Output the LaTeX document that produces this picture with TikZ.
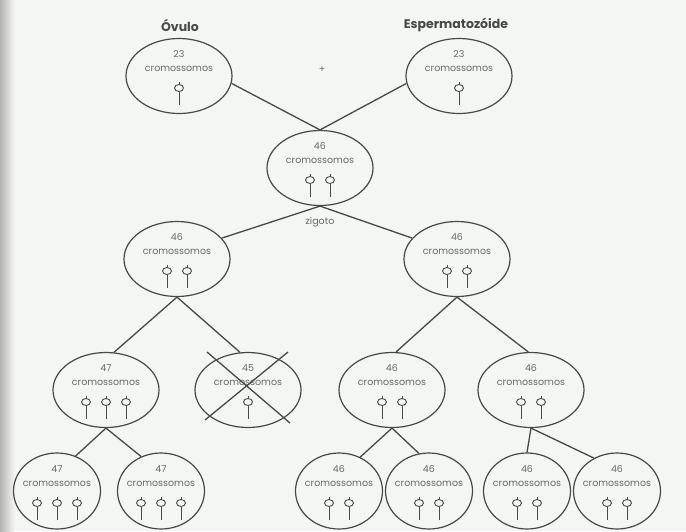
\documentclass[tikz,border=0pt]{standalone}
\usepackage{fontspec}
\setmainfont{Poppins}
\usetikzlibrary{shapes.geometric}
\definecolor{cline}{RGB}{72,72,72}
\definecolor{ctext}{RGB}{105,105,105}
\definecolor{cpaper}{RGB}{244,246,243}

\begin{document}
\begin{tikzpicture}[x=1pt,y=-1pt,
  cell/.style={draw=cline,line width=1.2pt,ellipse,minimum width=106pt,minimum height=75pt,inner sep=0pt},
  leaf/.style={cell,minimum width=87pt,minimum height=76pt},
  link/.style={draw=cline,line width=1.3pt},
  txt/.style={font=\fontsize{9.5}{11}\selectfont,text=ctext,inner sep=0pt},
  head/.style={font=\bfseries\fontsize{12.5}{14}\selectfont,text=cline,inner sep=0pt},
  chromo/.pic={
    \draw[cline,line width=0.9pt] (0pt,3.5pt) -- (0pt,6.5pt);
    \draw[cline,line width=0.9pt] (0,0) ellipse [x radius=4.5pt,y radius=3.5pt];
    \draw[cline,line width=0.9pt] (0pt,-3.5pt) -- (0pt,-17pt);
  }]
\fill[cpaper] (0,0) rectangle (686,531);
\shade[left color=black!30,right color=cpaper] (0,0) rectangle (14,531);

\foreach \n/\x/\y/\num/\k/\s in {ov/179/76/23/1/cell, es/459/76/23/1/cell, zy/320/168/46/2/cell,
    a/177/259/46/2/cell, b/457/259/46/2/cell,
    a1/106/390/47/3/cell, a2/248/390/45/1/cell, b1/392/390/46/2/cell, b2/531/390/46/2/cell,
    a11/57/491/47/3/leaf, a12/161/491/47/3/leaf, b11/339/491/46/2/leaf,
    b12/429/491/46/2/leaf, b21/527/491/46/2/leaf, b22/617/491/46/2/leaf}{
  \node[\s] (\n) at (\x,\y) {};
  \node[txt] (\n-num) at (\x,\y-22) {\num};
  \node[txt] (\n-word) at (\x,\y-7) {cromossomos};
  \foreach \i in {1,...,\k}{
    \pgfmathsetmacro\cx{\x+(\i-(\k+1)/2)*20}
    \pic at (\cx,\y+12) {chromo};
  }
}

\node[head] (ovulo) at (180,25) {Óvulo};
\node[head] (esperma) at (456,25) {Espermatozóide};
\node[txt] (plus) at (322,70) {+};
\node[txt] (zigoto) at (320,222) {zigoto};

\draw[link] (ov.-8) -- (zy.north);
\draw[link] (es.188) -- (zy.north);
\draw[link] (zy.south) -- (a.25);
\draw[link] (zy.south) -- (b.155);
\draw[link] (a.south) -- (a1.78);
\draw[link] (a.south) -- (a2.102);
\draw[link] (b.south) -- (b1.84);
\draw[link] (b.south) -- (b2.94);
\draw[link] (a1.south) -- (a11.62);
\draw[link] (a1.south) -- (a12.120);
\draw[link] (b1.south) -- (b11.58);
\draw[link] (b1.south) -- (b12.105);
\draw[link] (b2.south) -- (b21.north);
\draw[link] (b2.south) -- (b22.125);

\draw[link] ([shift={(-41,-38)}]a2.center) -- ([shift={(42,33)}]a2.center);
\draw[link] ([shift={(40,-38)}]a2.center) -- ([shift={(-43,30)}]a2.center);
\end{tikzpicture}
\end{document}
